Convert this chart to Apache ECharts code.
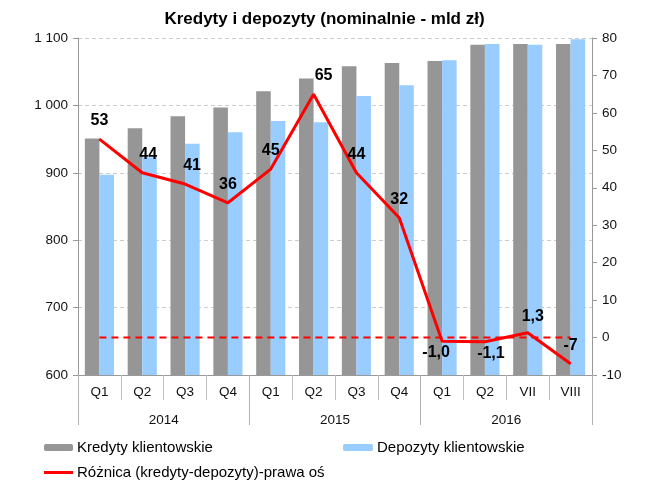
<!DOCTYPE html>
<html><head><meta charset="utf-8">
<script src="https://cdn.jsdelivr.net/npm/echarts@6/dist/echarts.min.js"></script>
<style>html,body{margin:0;padding:0;background:#fff}#c{width:649px;height:480px}</style>
</head><body><div id="c"></div>
<script>
var categories = ['Q1','Q2','Q3','Q4','Q1','Q2','Q3','Q4','Q1','Q2','VII','VIII'];
var years = ['2014','2015','2016'];
var kredyty = [951, 966, 984, 997, 1021, 1040, 1058, 1063, 1066, 1090, 1091, 1091];
var depozyty = [897, 923, 943, 960, 977, 975, 1014, 1030, 1067, 1091, 1090, 1098];
var roznica = [53, 44, 41, 36, 45, 65, 44, 32, -1.0, -1.1, 1.3, -7];
var zeroLine = [0,0,0,0,0,0,0,0,0,0,0,0];

var FONT = 'Liberation Sans, Arial, sans-serif';
function fmtDiff(v){ return Math.abs(v) < 2 ? v.toFixed(1).replace('.', ',') : String(Math.round(v)); }
var below = {8:true, 9:true};
var labelShift = {1:[6,0], 2:[7,0], 5:[10,0], 8:[-6,0], 9:[6,0], 10:[5,2]};
var diffData = roznica.map(function(v, i){
  return {value: v, label: {position: below[i] ? 'bottom' : 'top', distance: below[i] ? 3 : 10,
    offset: labelShift[i] || [0,0]}};
});

var legendText = {fontFamily: FONT, fontSize: 15, color: '#000', padding: [0,0,0,-1]};
var chart = echarts.init(document.getElementById('c'));
chart.setOption({
  animation: false,
  textStyle: {fontFamily: FONT},
  title: {text: 'Kredyty i depozyty (nominalnie - mld zł)', left: 'center', top: 6,
    textStyle: {fontFamily: FONT, fontSize: 17, fontWeight: 'bold', color: '#000'}},
  legend: [
    {data: ['Kredyty klientowskie'], left: 44, top: 440, padding: 0, itemWidth: 29, itemHeight: 7, itemGap: 4,
      textStyle: legendText},
    {data: ['Depozyty klientowskie'], left: 343, top: 440, padding: 0, itemWidth: 30, itemHeight: 7,
      textStyle: legendText},
    {data: [{name: 'Różnica (kredyty-depozyty)-prawa oś', icon: 'rect'}], left: 44, top: 465, padding: 0, itemWidth: 29, itemHeight: 3,
      textStyle: legendText}
  ],
  grid: {left: 78, right: 57, top: 38, bottom: 105, containLabel: false},
  xAxis: [
    {type: 'category', data: categories, position: 'bottom',
      axisLine: {show: true, onZero: false, lineStyle: {color: '#999'}},
      axisTick: {show: true, inside: false, interval: 0, length: 25, lineStyle: {color: '#c0c0c0'}},
      axisLabel: {fontFamily: FONT, fontSize: 13.5, color: '#111', margin: 10, interval: 0}},
    {type: 'category', data: years, position: 'bottom',
      axisLine: {show: false, onZero: false},
      axisTick: {show: true, inside: false, interval: 0, length: 50, lineStyle: {color: '#b0b0b0'}},
      axisLabel: {fontFamily: FONT, fontSize: 13.5, color: '#111', margin: 38}}
  ],
  yAxis: [
    {type: 'value', min: 600, max: 1100, interval: 100, position: 'left',
      axisLine: {show: true, lineStyle: {color: '#999'}},
      axisTick: {show: true, length: 5, lineStyle: {color: '#999'}},
      splitLine: {lineStyle: {color: '#ccc', type: [4, 3]}},
      axisLabel: {fontFamily: FONT, fontSize: 13.5, color: '#111', margin: 10,
        formatter: function(v){ return String(v).replace(/\B(?=(\d{3})+(?!\d))/g, ' '); }}},
    {type: 'value', min: -10, max: 80, interval: 10, position: 'right',
      axisLine: {show: true, lineStyle: {color: '#999'}},
      axisTick: {show: true, length: 5, lineStyle: {color: '#999'}},
      splitLine: {show: false},
      axisLabel: {fontFamily: FONT, fontSize: 13.5, color: '#111', margin: 10}}
  ],
  series: [
    {name: 'Kredyty klientowskie', type: 'bar', data: kredyty, barGap: '0%', barCategoryGap: '32%',
      itemStyle: {color: '#969696'}},
    {name: 'Depozyty klientowskie', type: 'bar', data: depozyty,
      itemStyle: {color: '#99CCFF'}},
    {name: 'zero', type: 'line', yAxisIndex: 1, data: zeroLine, symbol: 'none',
      lineStyle: {color: '#FF0000', width: 2, type: [7, 5]}, z: 3, silent: true},
    {name: 'Różnica (kredyty-depozyty)-prawa oś', type: 'line', yAxisIndex: 1, data: diffData,
      symbol: 'circle', symbolSize: 1, showSymbol: true,
      lineStyle: {color: '#FF0000', width: 3}, itemStyle: {color: '#FF0000'}, z: 4,
      label: {show: true, fontFamily: FONT, fontSize: 16, fontWeight: 'bold', color: '#000',
        formatter: function(p){ return fmtDiff(p.value); }}}
  ]
});
</script></body></html>
